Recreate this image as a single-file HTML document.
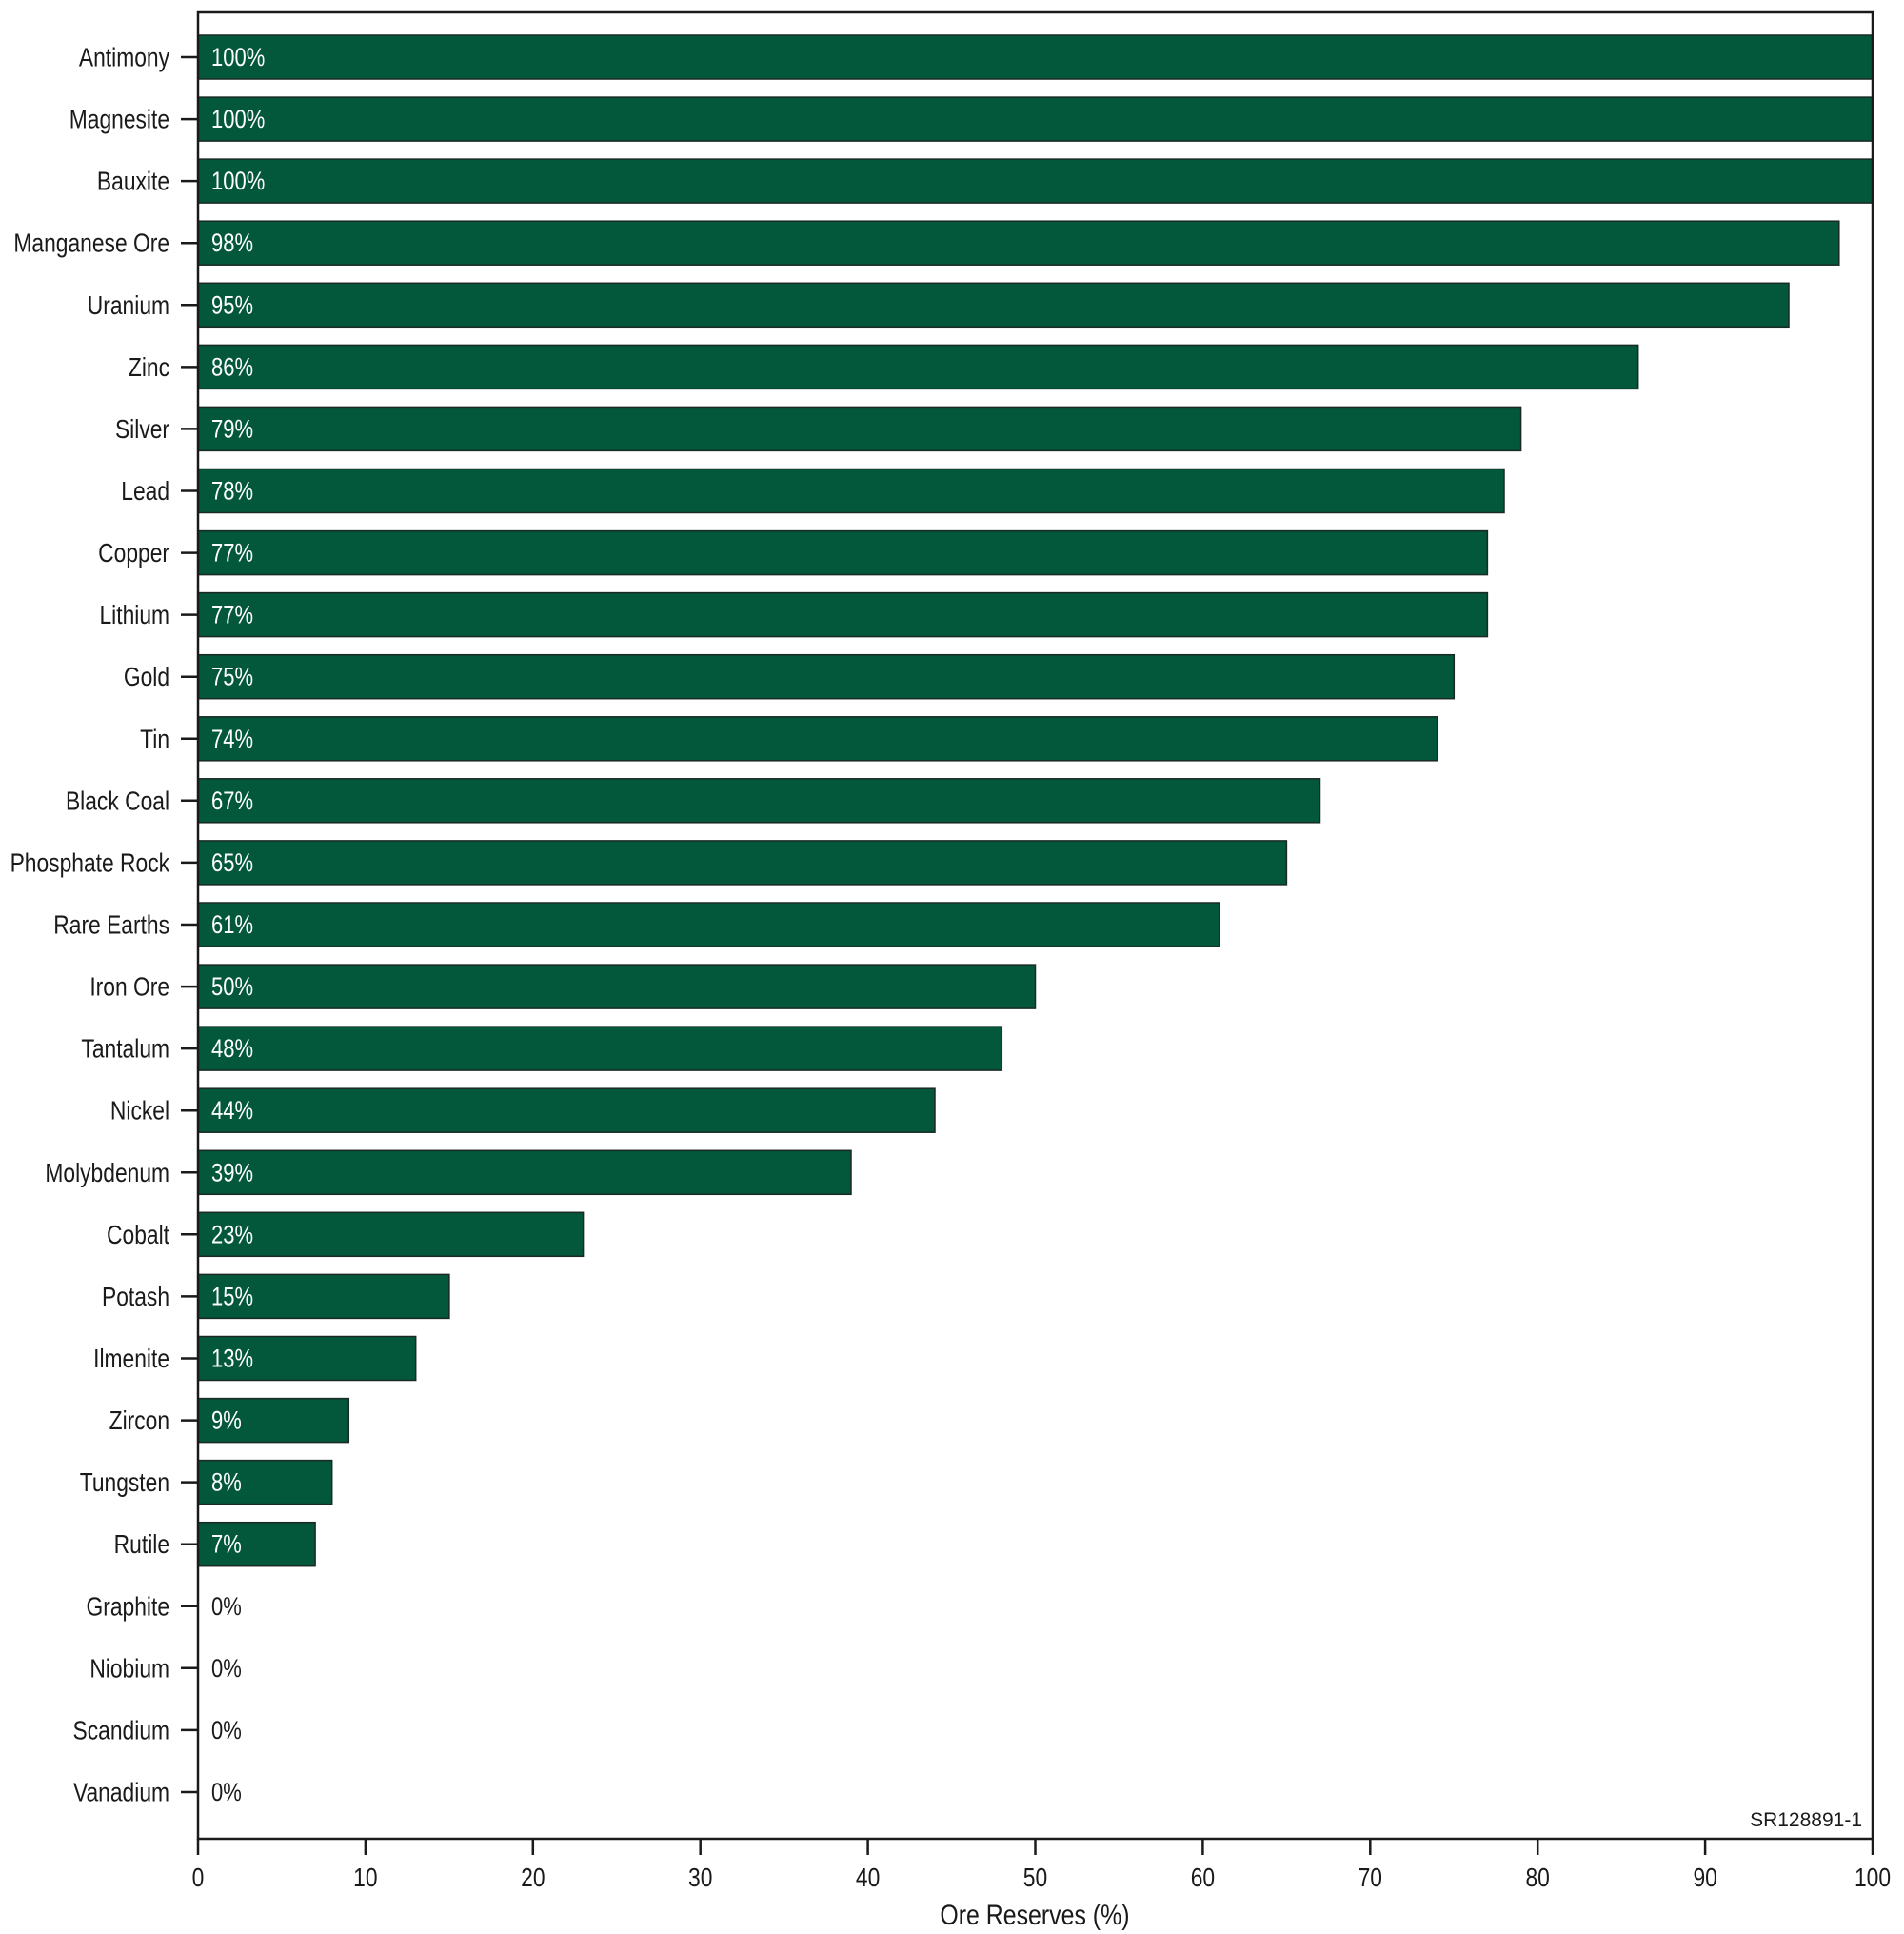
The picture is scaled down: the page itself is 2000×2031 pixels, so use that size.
<!DOCTYPE html>
<html><head><meta charset="utf-8"><style>
html,body{margin:0;padding:0;background:#fff;}
svg{display:block;}
text{font-family:"Liberation Sans",Arial,sans-serif;}
</style></head><body>
<svg width="2000" height="2031" viewBox="0 0 2000 2031" xmlns="http://www.w3.org/2000/svg">
<rect x="0" y="0" width="2000" height="2031" fill="#fff"/>
<g fill="#03573a" stroke="#1a2a22" stroke-width="1.5">
<rect x="208" y="37" width="1759" height="46"/>
<rect x="208" y="102.1" width="1759" height="46"/>
<rect x="208" y="167.1" width="1759" height="46"/>
<rect x="208" y="232.2" width="1723.8" height="46"/>
<rect x="208" y="297.3" width="1671" height="46"/>
<rect x="208" y="362.4" width="1512.7" height="46"/>
<rect x="208" y="427.4" width="1389.6" height="46"/>
<rect x="208" y="492.5" width="1372" height="46"/>
<rect x="208" y="557.6" width="1354.4" height="46"/>
<rect x="208" y="622.6" width="1354.4" height="46"/>
<rect x="208" y="687.7" width="1319.3" height="46"/>
<rect x="208" y="752.8" width="1301.7" height="46"/>
<rect x="208" y="817.8" width="1178.5" height="46"/>
<rect x="208" y="882.9" width="1143.4" height="46"/>
<rect x="208" y="948" width="1073" height="46"/>
<rect x="208" y="1013.1" width="879.5" height="46"/>
<rect x="208" y="1078.1" width="844.3" height="46"/>
<rect x="208" y="1143.2" width="774" height="46"/>
<rect x="208" y="1208.3" width="686" height="46"/>
<rect x="208" y="1273.3" width="404.6" height="46"/>
<rect x="208" y="1338.4" width="263.9" height="46"/>
<rect x="208" y="1403.5" width="228.7" height="46"/>
<rect x="208" y="1468.6" width="158.3" height="46"/>
<rect x="208" y="1533.6" width="140.7" height="46"/>
<rect x="208" y="1598.7" width="123.1" height="46"/>
</g>
<g fill="none" stroke="#1a1a1a" stroke-width="2.5">
<rect x="208" y="13" width="1759" height="1918"/>
</g>
<g stroke="#1a1a1a" stroke-width="2.5">
<line x1="190" x2="208" y1="60" y2="60"/><line x1="190" x2="208" y1="125.1" y2="125.1"/><line x1="190" x2="208" y1="190.1" y2="190.1"/><line x1="190" x2="208" y1="255.2" y2="255.2"/><line x1="190" x2="208" y1="320.3" y2="320.3"/><line x1="190" x2="208" y1="385.4" y2="385.4"/><line x1="190" x2="208" y1="450.4" y2="450.4"/><line x1="190" x2="208" y1="515.5" y2="515.5"/><line x1="190" x2="208" y1="580.6" y2="580.6"/><line x1="190" x2="208" y1="645.6" y2="645.6"/><line x1="190" x2="208" y1="710.7" y2="710.7"/><line x1="190" x2="208" y1="775.8" y2="775.8"/><line x1="190" x2="208" y1="840.8" y2="840.8"/><line x1="190" x2="208" y1="905.9" y2="905.9"/><line x1="190" x2="208" y1="971" y2="971"/><line x1="190" x2="208" y1="1036.1" y2="1036.1"/><line x1="190" x2="208" y1="1101.1" y2="1101.1"/><line x1="190" x2="208" y1="1166.2" y2="1166.2"/><line x1="190" x2="208" y1="1231.3" y2="1231.3"/><line x1="190" x2="208" y1="1296.3" y2="1296.3"/><line x1="190" x2="208" y1="1361.4" y2="1361.4"/><line x1="190" x2="208" y1="1426.5" y2="1426.5"/><line x1="190" x2="208" y1="1491.6" y2="1491.6"/><line x1="190" x2="208" y1="1556.6" y2="1556.6"/><line x1="190" x2="208" y1="1621.7" y2="1621.7"/><line x1="190" x2="208" y1="1686.8" y2="1686.8"/><line x1="190" x2="208" y1="1751.8" y2="1751.8"/><line x1="190" x2="208" y1="1816.9" y2="1816.9"/><line x1="190" x2="208" y1="1882" y2="1882"/>
<line x1="208" x2="208" y1="1931" y2="1948"/><line x1="383.9" x2="383.9" y1="1931" y2="1948"/><line x1="559.8" x2="559.8" y1="1931" y2="1948"/><line x1="735.7" x2="735.7" y1="1931" y2="1948"/><line x1="911.6" x2="911.6" y1="1931" y2="1948"/><line x1="1087.5" x2="1087.5" y1="1931" y2="1948"/><line x1="1263.4" x2="1263.4" y1="1931" y2="1948"/><line x1="1439.3" x2="1439.3" y1="1931" y2="1948"/><line x1="1615.2" x2="1615.2" y1="1931" y2="1948"/><line x1="1791.1" x2="1791.1" y1="1931" y2="1948"/><line x1="1967" x2="1967" y1="1931" y2="1948"/>
</g>
<g transform="scale(0.83,1)" font-size="27.5" fill="#1a1a1a" text-anchor="end">
<text x="214.5" y="69.5">Antimony</text><text x="214.5" y="134.6">Magnesite</text><text x="214.5" y="199.6">Bauxite</text><text x="214.5" y="264.7">Manganese Ore</text><text x="214.5" y="329.8">Uranium</text><text x="214.5" y="394.9">Zinc</text><text x="214.5" y="459.9">Silver</text><text x="214.5" y="525">Lead</text><text x="214.5" y="590.1">Copper</text><text x="214.5" y="655.1">Lithium</text><text x="214.5" y="720.2">Gold</text><text x="214.5" y="785.3">Tin</text><text x="214.5" y="850.3">Black Coal</text><text x="214.5" y="915.4">Phosphate Rock</text><text x="214.5" y="980.5">Rare Earths</text><text x="214.5" y="1045.6">Iron Ore</text><text x="214.5" y="1110.6">Tantalum</text><text x="214.5" y="1175.7">Nickel</text><text x="214.5" y="1240.8">Molybdenum</text><text x="214.5" y="1305.8">Cobalt</text><text x="214.5" y="1370.9">Potash</text><text x="214.5" y="1436">Ilmenite</text><text x="214.5" y="1501.1">Zircon</text><text x="214.5" y="1566.1">Tungsten</text><text x="214.5" y="1631.2">Rutile</text><text x="214.5" y="1696.3">Graphite</text><text x="214.5" y="1761.3">Niobium</text><text x="214.5" y="1826.4">Scandium</text><text x="214.5" y="1891.5">Vanadium</text>
</g>
<g transform="scale(0.83,1)" font-size="26.5" fill="#fff">
<text x="267.5" y="69">100%</text><text x="267.5" y="134.1">100%</text><text x="267.5" y="199.1">100%</text><text x="267.5" y="264.2">98%</text><text x="267.5" y="329.3">95%</text><text x="267.5" y="394.4">86%</text><text x="267.5" y="459.4">79%</text><text x="267.5" y="524.5">78%</text><text x="267.5" y="589.6">77%</text><text x="267.5" y="654.6">77%</text><text x="267.5" y="719.7">75%</text><text x="267.5" y="784.8">74%</text><text x="267.5" y="849.8">67%</text><text x="267.5" y="914.9">65%</text><text x="267.5" y="980">61%</text><text x="267.5" y="1045.1">50%</text><text x="267.5" y="1110.1">48%</text><text x="267.5" y="1175.2">44%</text><text x="267.5" y="1240.3">39%</text><text x="267.5" y="1305.3">23%</text><text x="267.5" y="1370.4">15%</text><text x="267.5" y="1435.5">13%</text><text x="267.5" y="1500.6">9%</text><text x="267.5" y="1565.6">8%</text><text x="267.5" y="1630.7">7%</text>
</g>
<g transform="scale(0.83,1)" font-size="26.5" fill="#1a1a1a">
<text x="267.5" y="1695.8">0%</text><text x="267.5" y="1760.8">0%</text><text x="267.5" y="1825.9">0%</text><text x="267.5" y="1891">0%</text>
</g>
<g transform="scale(0.83,1)" font-size="27.5" fill="#1a1a1a" text-anchor="middle">
<text x="250.6" y="1981">0</text><text x="462.5" y="1981">10</text><text x="674.5" y="1981">20</text><text x="886.4" y="1981">30</text><text x="1098.3" y="1981">40</text><text x="1310.2" y="1981">50</text><text x="1522.2" y="1981">60</text><text x="1734.1" y="1981">70</text><text x="1946" y="1981">80</text><text x="2158" y="1981">90</text><text x="2369.9" y="1981">100</text>
<text x="1309.6" y="2021" font-size="30">Ore Reserves (%)</text>
</g>
<text x="1956" y="1918" font-size="21" fill="#1a1a1a" text-anchor="end">SR128891-1</text>
</svg>
</body></html>
